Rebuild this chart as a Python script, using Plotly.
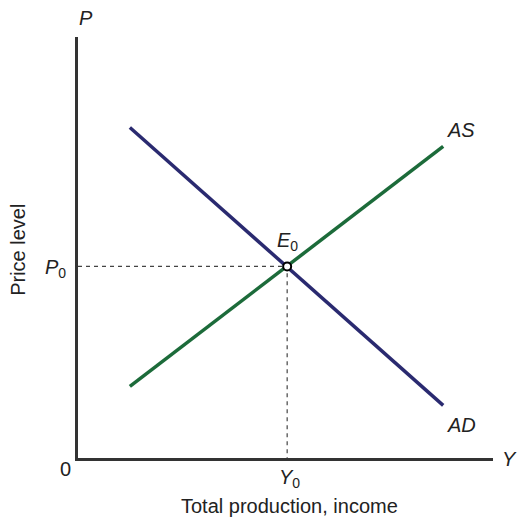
import plotly.graph_objects as go

# Data (abstract units)
ad_x = [1.25, 8.8]
ad_y = [7.85, 1.25]
as_x = [1.25, 8.8]
as_y = [1.7, 7.4]
eq_x = [5.04]
eq_y = [4.55]

AD_COLOR = "#2a2a70"
AS_COLOR = "#1c6b3a"
AXIS_COLOR = "#333333"
FONT = "Liberation Sans, Arial, sans-serif"

fig = go.Figure()

# Dashed guide lines
fig.add_trace(go.Scatter(x=[0, eq_x[0], eq_x[0]], y=[eq_y[0], eq_y[0], 0],
                         mode="lines", line=dict(color="#444444", width=1.2, dash="4px,4px"),
                         hoverinfo="skip", showlegend=False))
fig.add_trace(go.Scatter(x=ad_x, y=ad_y, mode="lines",
                         line=dict(color=AD_COLOR, width=3.5), showlegend=False))
fig.add_trace(go.Scatter(x=as_x, y=as_y, mode="lines",
                         line=dict(color=AS_COLOR, width=3.5), showlegend=False))
fig.add_trace(go.Scatter(x=eq_x, y=eq_y, mode="markers",
                         marker=dict(size=8, color="white", line=dict(color="black", width=2)),
                         showlegend=False, cliponaxis=False))

fs = 20
# positions given in axis units (0..10); converted to paper fractions
annots = [
    dict(x=0.2, y=10.45, text="<i>P</i>"),
    dict(x=10.4, y=-0.02, text="<i>Y</i>"),
    dict(x=-0.29, y=-0.26, text="0"),
    dict(x=-0.55, y=4.5, text="<i>P</i><sub>0</sub>"),
    dict(x=5.1, y=-0.48, text="<i>Y</i><sub>0</sub>"),
    dict(x=5.06, y=5.15, text="<i>E</i><sub>0</sub>"),
    dict(x=9.23, y=7.8, text="<i>AS</i>"),
    dict(x=9.23, y=0.78, text="<i>AD</i>"),
    dict(x=5.1, y=-1.14, text="Total production, income"),
    dict(x=-1.45, y=4.94, text="Price level", textangle=-90),
]
for a in annots:
    a = dict(a)
    a["x"] = a["x"] / 10.0
    a["y"] = a["y"] / 10.0
    fig.add_annotation(xref="paper", yref="paper", showarrow=False,
                       xanchor="center", yanchor="middle",
                       font=dict(family=FONT, size=fs, color="#222222"), **a)

fig.update_xaxes(range=[0, 10], showgrid=False, zeroline=False, showticklabels=False,
                 showline=True, linecolor=AXIS_COLOR, linewidth=3, ticks="")
fig.update_yaxes(range=[0, 10], showgrid=False, zeroline=False, showticklabels=False,
                 showline=True, linecolor=AXIS_COLOR, linewidth=3, ticks="")

fig.update_layout(width=517, height=520, margin=dict(l=78, r=24, t=37, b=62),
                  plot_bgcolor="white", paper_bgcolor="white",
                  font=dict(family=FONT))

fig.write_html("out.html", config={"displayModeBar": False},
               post_script="document.body.style.margin='0';document.body.style.overflow='hidden';")
